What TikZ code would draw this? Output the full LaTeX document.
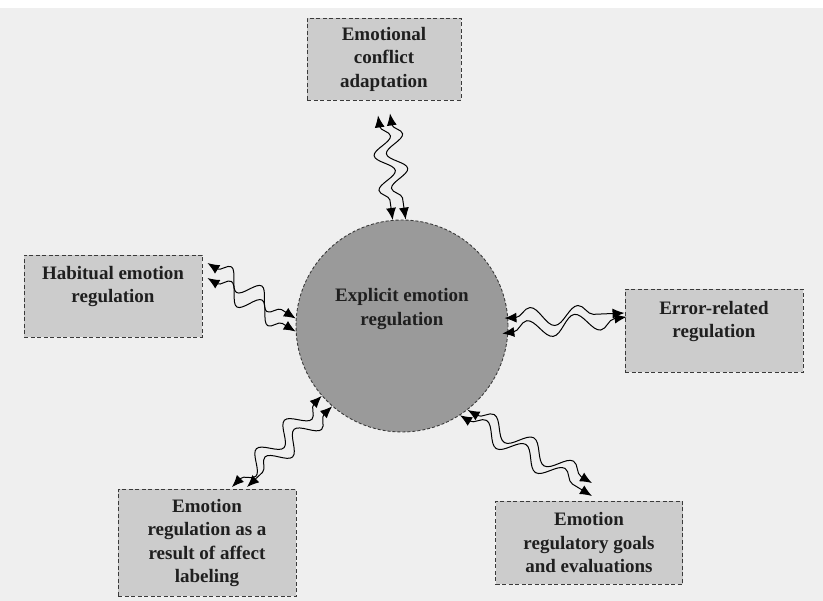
\documentclass[tikz,border=0pt]{standalone}
\usepackage{fontspec}
\setmainfont{Liberation Serif}
\usetikzlibrary{decorations.pathmorphing,arrows.meta}
\definecolor{bgcol}{HTML}{EFEFEF}
\definecolor{boxfill}{HTML}{CCCCCC}
\definecolor{circfill}{HTML}{9A9A9A}
\definecolor{edgecol}{HTML}{3A3A3A}
\begin{document}
\begin{tikzpicture}[x=1pt,y=-1pt,
  txt/.style={font=\bfseries\fontsize{19}{23.5}\selectfont, align=center, text=black!88},
  box/.style={txt, draw=edgecol, dash pattern=on 4pt off 2.5pt, line width=0.9pt, fill=boxfill, inner sep=0pt},
  wave/.style={draw=black, line width=1pt, {Latex[length=12pt,width=10pt]}-{Latex[length=12pt,width=10pt]},
    decorate, decoration={snake, segment length=#1, amplitude=9.5pt, pre length=11pt, post length=11pt}}
]
\useasboundingbox (0,0) rectangle (823,601);
\fill[bgcol] (0,0) rectangle (823,601);
\fill[white] (0,0) rectangle (823,8);

% central circle
\node[circle, draw=edgecol, dash pattern=on 3pt off 2pt, line width=0.9pt, fill=circfill, minimum size=212pt, inner sep=0pt] (c) at (402,326) {};
\node[txt] (ct) at (402,309) {Explicit emotion\\regulation};

% boxes
\node[box, minimum width=154pt, minimum height=82pt] (t) at (384,59) {Emotional\\conflict\\adaptation};
\node[box, minimum width=178pt, minimum height=82pt] (l) at (113,296) {Habitual emotion\\regulation\\\mbox{}};
\node[box, minimum width=178pt, minimum height=83pt] (r) at (714,331) {Error-related\\regulation\\\mbox{}};
\node[box, minimum width=178pt, minimum height=107pt] (bl) at (207,543) {Emotion\\regulation as a\\result of affect\\labeling};
\node[box, minimum width=187pt, minimum height=83pt] (br) at (589,543) {Emotion\\regulatory goals\\and evaluations};

% connectors
\draw[wave=35pt] ([shift={(-6,15)}]t.south) -- (c.95);
\draw[wave=35pt] ([shift={(6,13)}]t.south) -- (c.88);

\draw[wave=36pt] ([shift={(5,-33)}]l.east) -- (c.176);
\draw[wave=36pt] ([shift={(5,-18)}]l.east) -- (c.183);

\draw[wave=48pt] ([shift={(-6,2)}]c.-3) -- ([shift={(2,-14)}]r.west);
\draw[wave=48pt] ([shift={(-4,-6)}]c.1) -- ([shift={(0,-18)}]r.west);

\draw[wave=40pt] (c.221) -- ([shift={(25,-2)}]bl.north);
\draw[wave=40pt] (c.229) -- ([shift={(40,-2)}]bl.north);

\draw[wave=46pt] (c.-52) -- ([shift={(3,-18)}]br.north);
\draw[wave=46pt] (c.-57) -- ([shift={(3,-5)}]br.north);
\end{tikzpicture}
\end{document}
